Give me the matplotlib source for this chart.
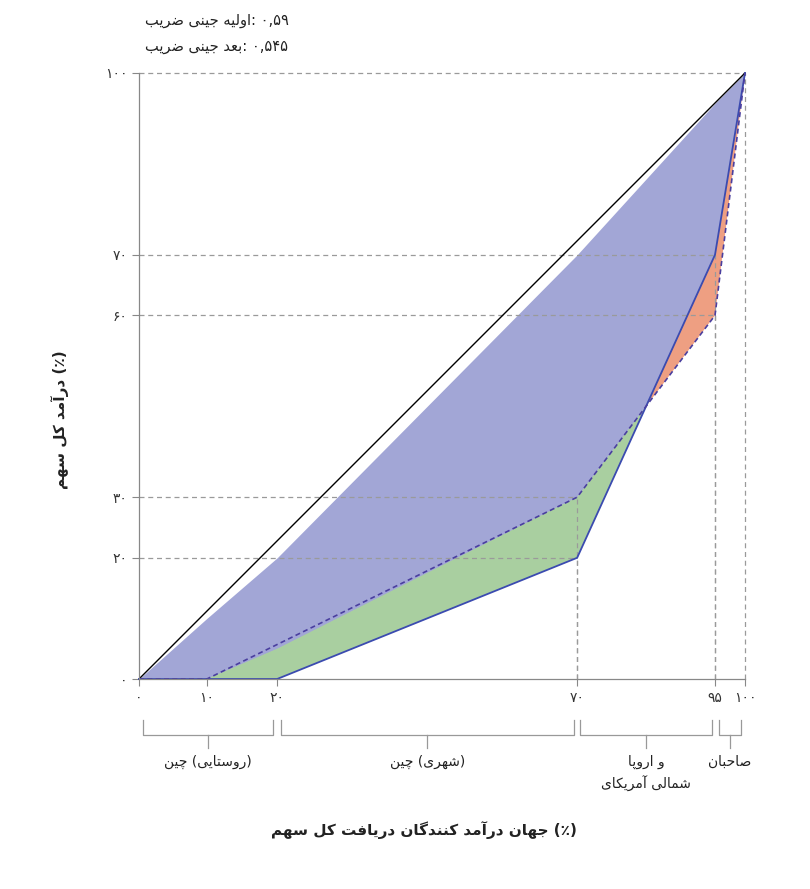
import unicodedata
import numpy as np
import matplotlib
matplotlib.use("Agg")
import matplotlib.pyplot as plt
from matplotlib.transforms import blended_transform_factory

# ---- data ----
x_nodes = [0, 10, 20, 70, 95, 100]
initial_share = [0, 0, 30, 30, 60, 100]   # placeholder fixed below
initial_x = [0, 10, 70, 95, 100]
initial_y = [0, 0, 30, 60, 100]
after_x = [0, 20, 70, 95, 100]
after_y = [0, 0, 20, 70, 100]
x_ticks = [0, 10, 20, 70, 95, 100]
y_ticks = [0, 20, 30, 60, 70, 100]
groups = [(0, 20, "چین (روستایی)"), (20, 70, "چین (شهری)"),
          (70, 95, "اروپا و\nآمریکای شمالی"), (95, 100, "صاحبان")]
gini_text = ["ضریب جینی اولیه: ۰,۵۹", "ضریب جینی بعد: ۰,۵۴۵"]
x_title = "سهم کل دریافت کنندگان درآمد جهان (٪)"
y_title = "سهم کل درآمد (٪)"

# ---- simple arabic shaping (visual LTR word order as in reference) ----
RIGHT_ONLY = set("اآأإدذرزژوؤة")
def is_ar(c):
    return '\u0620' <= c <= '\u06FF' and not ('\u06F0' <= c <= '\u06F9') and c not in '٪،'
def form(c, f):
    try:
        return unicodedata.lookup(unicodedata.name(c) + " " + f + " FORM")
    except Exception:
        return c
def shape_run(run):
    out = []
    n = len(run)
    for i, c in enumerate(run):
        jp = i > 0 and run[i-1] not in RIGHT_ONLY
        jn = i < n-1 and c not in RIGHT_ONLY
        f = "MEDIAL" if (jp and jn) else "FINAL" if jp else "INITIAL" if jn else "ISOLATED"
        out.append(form(c, f))
    return "".join(reversed(out))
def fa(s):
    lines = []
    for line in s.split("\n"):
        words = []
        for w in line.split(" "):
            res, run = "", ""
            for c in w:
                if is_ar(c):
                    run += c
                else:
                    if run:
                        res += shape_run(run); run = ""
                    res += c
            if run:
                res += shape_run(run)
            words.append(res)
        lines.append(" ".join(words))
    return "\n".join(lines)
def fd(v):
    return "".join(chr(0x06F0 + int(d)) for d in str(v))

# ---- scale (reference x axis is piecewise) ----
sx_data = [0, 10, 20, 70, 95, 100]
sx_disp = [0, 11.2, 22.8, 72.3, 95.05, 100]
fwd = lambda v: np.interp(v, sx_data, sx_disp)
inv = lambda v: np.interp(v, sx_disp, sx_data)

plt.rcParams["font.family"] = "DejaVu Sans"
fig = plt.figure(figsize=(8.1, 8.89), dpi=100)
ax = fig.add_axes([139/810, 210/889, 606/810, 606/889])
ax.set_xscale("function", functions=(fwd, inv))
ax.set_xlim(0, 100); ax.set_ylim(0, 100)

xs = np.array(sorted(set(initial_x + after_x + [82.5])))
yi = np.interp(xs, initial_x, initial_y)
ya = np.interp(xs, after_x, after_y)
top = np.maximum(yi, ya)
ax.fill_between(xs, xs, top, color="#a2a6d6", lw=0)
ax.fill_between(xs, ya, yi, where=yi >= ya, color="#a9cfa0", lw=0, interpolate=True)
ax.fill_between(xs, yi, ya, where=ya >= yi, color="#ee9f82", lw=0, interpolate=True)

gc = "#9a9a9a"
for (px, py) in [(70, 20), (70, 30), (95, 60), (95, 70), (100, 100)]:
    ax.plot([0, px], [py, py], ls="--", color=gc, lw=0.9, dashes=(4, 3), clip_on=False)
    ax.plot([px, px], [0, py], ls="--", color=gc, lw=0.9, dashes=(4, 3), clip_on=False)

ax.plot([0, 100], [0, 100], color="black", lw=1.0, clip_on=False)
ax.plot(after_x, after_y, color="#3b4bb0", lw=1.3, clip_on=False)
ax.plot(initial_x, initial_y, color="#4a3f9f", lw=1.2, ls="--", dashes=(3, 2), clip_on=False)

for s in ["top", "right"]:
    ax.spines[s].set_visible(False)
for s in ["left", "bottom"]:
    ax.spines[s].set_color("#888888"); ax.spines[s].set_linewidth(0.9)
ax.set_xticks(x_ticks); ax.set_xticklabels([fd(v) for v in x_ticks])
ax.set_yticks(y_ticks); ax.set_yticklabels([fd(v) for v in y_ticks])
ax.xaxis.set_minor_locator(matplotlib.ticker.NullLocator())
ax.tick_params(colors="#888888", labelcolor="#333333", labelsize=10, length=5, width=0.8)

tr = blended_transform_factory(ax.transData, ax.transAxes)
bc = "#999999"
for (a, b, lab) in groups:
    a2, b2 = a + 0.6, b - 0.6
    ax.plot([a2, a2, b2, b2], [-0.068, -0.092, -0.092, -0.068], color=bc, lw=0.9,
            transform=tr, clip_on=False)
    mid = inv((fwd(a) + fwd(b)) / 2)
    ax.plot([mid, mid], [-0.092, -0.114], color=bc, lw=0.9, transform=tr, clip_on=False)
    ax.text(mid, -0.125, fa(lab), transform=tr, ha="center", va="top", fontsize=10,
            color="#222222", linespacing=1.5)

ax.text(0.47, -0.25, fa(x_title), transform=ax.transAxes, ha="center", va="center",
        fontsize=11, fontweight="bold", color="#222222")
fig.text(60/810, 1-420/889, fa(y_title), rotation=90, ha="center", va="center",
         fontsize=11, fontweight="bold", color="#222222")
fig.text(145/810, 1-20/889, fa(gini_text[0]), ha="left", va="center", fontsize=10.5, color="#222222")
fig.text(145/810, 1-46/889, fa(gini_text[1]), ha="left", va="center", fontsize=10.5, color="#222222")

fig.savefig("out.png", dpi=100)
